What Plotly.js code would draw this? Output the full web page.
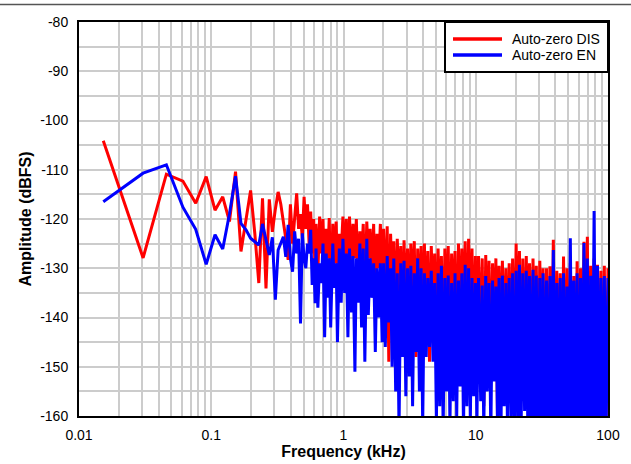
<!DOCTYPE html>
<html>
<head>
<meta charset="utf-8">
<script src="https://cdn.plot.ly/plotly-3.0.1.min.js"></script>
<style>
html,body{margin:0;padding:0;background:#ffffff;}
#chart{width:631px;height:464px;}
</style>
</head>
<body>
<div id="chart"></div>
<script>
// ---- Data ----
// FFT bins below ~0.6 kHz (kHz)
const freqLowKHz = [0.01526,0.03052,0.04578,0.06104,0.07629,0.09155,0.1068,0.1221,0.1373,0.1526,
  0.1678,0.1831,0.1984,0.2136,0.2289,0.2441,0.2594,0.2747,0.2899,0.3052,
  0.3204,0.3357,0.3510,0.3662,0.3815,0.3967,0.4120,0.4272,0.4425,0.4578,
  0.4730,0.4883,0.5035,0.5188,0.5341,0.5493,0.5646,0.5798,0.5951,0.6104];
// Sampled frequencies above 0.6 kHz (kHz)
const freqHighKHz = [0.62,0.64,0.66,0.68,0.70,0.72,0.74,0.76,0.78,0.80,
  0.83,0.85,0.88,0.90,0.93,0.96,0.99,1.02,1.05,1.08,
  1.11,1.15,1.18,1.22,1.25,1.29,1.33,1.37,1.41,1.45,
  1.50,1.54,1.59,1.64,1.69,1.74,1.79,1.84,1.90,1.96,
  2.01,2.07,2.14,2.20,2.27,2.33,2.40,2.48,2.55,2.63,
  2.71,2.79,2.87,2.96,3.05,3.14,3.23,3.33,3.43,3.53,
  3.64,3.75,3.86,3.97,4.09,4.22,4.34,4.47,4.61,4.75,
  4.89,5.04,5.19,5.34,5.50,5.67,5.84,6.01,6.19,6.38,
  6.57,6.77,6.97,7.18,7.40,7.62,7.85,8.08,8.32,8.57,
  8.83,9.10,9.37,9.65,9.94,10.2,10.5,10.9,11.2,11.5,
  11.9,12.2,12.6,13.0,13.4,13.8,14.2,14.6,15.0,15.5,
  15.9,16.4,16.9,17.4,17.9,18.5,19.0,19.6,20.2,20.8,
  21.4,22.0,22.7,23.4,24.1,24.8,25.5,26.3,27.1,27.9,
  28.7,29.6,30.5,31.4,32.3,33.3,34.3,35.3,36.4,37.5,
  38.6,39.8,41.0,42.2,43.5,44.8,46.1,47.5,48.9,50.4,
  51.9,53.5,55.1,56.7,58.4,60.2,62.0,63.8,65.8,67.7,
  69.8,71.9,74.0,76.2,78.5,80.9,83.3,85.8,88.4,91.0,
  93.8,96.6,100];

// Auto-zero DIS (dBFS)
const autoZeroDisLow = [-104.1,-127.9,-110.9,-112.3,-116.8,-111.4,-118.2,-115.5,-120.5,-110.4,
  -126.6,-120.5,-114.2,-123,-133,-115.8,-134.1,-116,-122.6,-118,
  -114.5,-117,-120.2,-124,-128.3,-117,-125,-119,-114.8,-122,
  -119,-124,-115.5,-122,-117,-125,-118.5,-127,-120,-131.7];
const autoZeroDisHigh = [-121,-131,-119.5,-127,-120,-133,-122,-128,-119.8,-135,-121,-129,-120.5,-132,-123,-127,-119.5,
  -129,-120,-138,-119.5,-130,-121,-128,-120,-133,-122.5,-129,-121,-136,-120.5,-128,-122,-131,-121,-139,-123,-130,-121,-134,
  -122,-137,-121.5,-149,-123,-133,-124.5,-141,-124,-135,-125.5,-146,-124.3,-138,-126,-144,-125,-136,-124.5,-148,-126,-139,-125.5,-143,
  -125,-142,-126.5,-149,-125.5,-138,-127,-146,-126,-140,-127.5,-151,-126,-141,-125.5,-147,-127,-139,-126.5,-153,-125,-144,-126,-140,-124.5,-148,-124,-142,-126,-150,-127.5,
  -150,-127.5,-145,-128,-158,-127.3,-147,-128.5,-152,-129,-144,-128,-160,-129.5,-149,-128.5,-146,-130,-155,-129,-148,-128,-151,-125,-146,-126.5,-157,-128,-150,-127.5,-147,-129,-153,-128,-149,-129.5,-158,-128.5,-150,-130,
  -160,-130,-162,-129.6,-158,-124.2,-163,-130.5,-159,-131,-164,-127.6,-161,-130,-165,-129,-160,-131.6,-163,-128.6,-158,-130,-164,-124.6,-161,-123.6,-165,-129.5,-160,-128,-163,-129.3,-161,-130.5,-165,-129.5,-162,-130];

// Auto-zero EN (dBFS)
const autoZeroEnLow = [-116.5,-110.7,-109.0,-117.6,-122.1,-129.2,-123.2,-126.1,-119,-111.3,
  -120.9,-122.2,-123.9,-124.6,-125.3,-121,-124,-127.3,-123.7,-136.4,
  -126.3,-125,-123.6,-127.7,-121.2,-128,-130.7,-122.5,-127,-124,
  -141.2,-122.9,-128,-130,-125,-127,-122.2,-133.4,-128,-137.1];
const autoZeroEnHigh = [-126,-138,-129,-133,-125,-144,-127,-136,-128,-142,-125,-134,-129,-145,-126,-137,-124,
  -135,-127,-144,-126,-139,-127.5,-151,-128,-137,-125,-142,-126,-149,-124,-139.5,-128,-136,-129,-147,-130,-140,-129,-145,
  -129,-146,-127.5,-141,-130,-150,-128,-155,-131,-163,-129,-148,-128.5,-156,-130,-152,-129.5,-158,-131,-147,-128,-155,-130,-162,
  -131,-148,-132,-146,-130.5,-149,-133,-161,-131,-158,-129.5,-163,-132,-155,-131.5,-162,-133,-157,-131,-160,-132.5,-154,-131,-163,-129.3,-158,-130,-161,-132,-156,-133,
  -162,-132,-157,-133.5,-163,-131.6,-155,-133,-164,-132.5,-153,-133.7,-162,-132,-165,-131.5,-158,-133,-164,-132,-160,-131,-165,-130.5,-161,-129.3,-164,-131,-159,-130.5,-165,-131.6,-162,-130.3,-166,-131.5,-163,-132,-165,-131,
  -165,-132.5,-166,-131.6,-164,-126.3,-166,-133,-165,-132,-167,-131,-165,-133.7,-166,-123.9,-164,-132.5,-166,-131,-165,-132,-167,-124.9,-165,-128,-166,-131.5,-165,-118.4,-166,-129.5,-165,-132,-166,-131.6,-165,-132];

const seriesNames = ['Auto-zero DIS', 'Auto-zero EN'];
const seriesColors = ['#ff0000', '#0000ff'];

const xTickVals = [0.01, 0.1, 1, 10, 100];
const xTickText = ['0.01', '0.1', '1', '10', '100'];
const xMinorVals = [0.02,0.03,0.04,0.05,0.06,0.07,0.08,0.09,
  0.2,0.3,0.4,0.5,0.6,0.7,0.8,0.9,
  2,3,4,5,6,7,8,9,
  20,30,40,50,60,70,80,90];
const yTickVals = [-160,-150,-140,-130,-120,-110,-100,-90,-80];
const yTickText = ['-160','-150','-140','-130','-120','-110','-100','-90','-80'];

// ---- Build traces ----
const freqKHz = freqLowKHz.concat(freqHighKHz);
const disValues = autoZeroDisLow.concat(autoZeroDisHigh);
const enValues = autoZeroEnLow.concat(autoZeroEnHigh);

const traces = [
  {x: freqKHz, y: disValues, type: 'scatter', mode: 'lines', name: seriesNames[0],
   line: {color: seriesColors[0], width: 3}},
  {x: freqKHz, y: enValues, type: 'scatter', mode: 'lines', name: seriesNames[1],
   line: {color: seriesColors[1], width: 3}}
];

// ---- Layout ----
const plotL = 79, plotR = 608, plotT = 22, plotB = 416;
const pw = plotR - plotL, ph = plotB - plotT;
function px2x(p){ return (p - plotL) / pw; }
function py2y(p){ return (plotB - p) / ph; }

const gridCol = '#cccccc';
const fontFam = '"Liberation Sans", Arial, Helvetica, sans-serif';

const legendY1 = py2y(39), legendY2 = py2y(55);

const layout = {
  width: 631, height: 464,
  margin: {l: plotL, r: 631 - plotR, t: plotT, b: 464 - plotB, pad: 0},
  paper_bgcolor: '#ffffff', plot_bgcolor: '#ffffff',
  showlegend: false,
  font: {family: fontFam, size: 14, color: '#000000'},
  xaxis: {
    type: 'log', range: [-2, 2],
    tickmode: 'array', tickvals: xTickVals, ticktext: xTickText,
    showgrid: true, gridcolor: gridCol, gridwidth: 2,
    minor: {tickmode: 'array', tickvals: xMinorVals, showgrid: true, gridcolor: gridCol, gridwidth: 2, ticks: ''},
    showline: true, mirror: true, linecolor: '#000000', linewidth: 2,
    ticks: 'outside', ticklen: 5, tickcolor: 'rgba(0,0,0,0)',
    zeroline: false,
    tickfont: {size: 14},
    title: {text: '<b>Frequency (kHz)</b>', font: {size: 16}, standoff: 4}
  },
  yaxis: {
    range: [-160, -80],
    tickmode: 'array', tickvals: yTickVals, ticktext: yTickText,
    showgrid: true, gridcolor: gridCol, gridwidth: 2,
    minor: {dtick: 5, tick0: -80, showgrid: true, gridcolor: gridCol, gridwidth: 2, ticks: ''},
    showline: true, mirror: true, linecolor: '#000000', linewidth: 2,
    ticks: 'outside', ticklen: 6, tickcolor: 'rgba(0,0,0,0)',
    zeroline: false,
    tickfont: {size: 14},
    title: {text: '<b>Amplitude (dBFS)</b>', font: {size: 16}, standoff: 5}
  },
  shapes: [
    {type: 'line', xref: 'paper', yref: 'paper', x0: px2x(0), x1: px2x(631), y0: py2y(4.5), y1: py2y(4.5),
     line: {color: '#555555', width: 1.5}, layer: 'above'},
    {type: 'rect', xref: 'paper', yref: 'paper', x0: px2x(445), x1: 1, y0: py2y(72), y1: 1,
     fillcolor: '#ffffff', line: {color: '#000000', width: 2}, layer: 'above'},
    {type: 'line', xref: 'paper', yref: 'paper', x0: px2x(453), x1: px2x(502), y0: legendY1, y1: legendY1,
     line: {color: seriesColors[0], width: 3.5}, layer: 'above'},
    {type: 'line', xref: 'paper', yref: 'paper', x0: px2x(453), x1: px2x(502), y0: legendY2, y1: legendY2,
     line: {color: seriesColors[1], width: 3.5}, layer: 'above'}
  ],
  annotations: [
    {xref: 'paper', yref: 'paper', x: px2x(510), y: legendY1, xanchor: 'left', yanchor: 'middle',
     text: seriesNames[0], showarrow: false, font: {size: 14, color: '#000000'}},
    {xref: 'paper', yref: 'paper', x: px2x(510), y: legendY2, xanchor: 'left', yanchor: 'middle',
     text: seriesNames[1], showarrow: false, font: {size: 14, color: '#000000'}}
  ]
};

Plotly.newPlot('chart', traces, layout, {staticPlot: true, displayModeBar: false});
</script>
</body>
</html>
